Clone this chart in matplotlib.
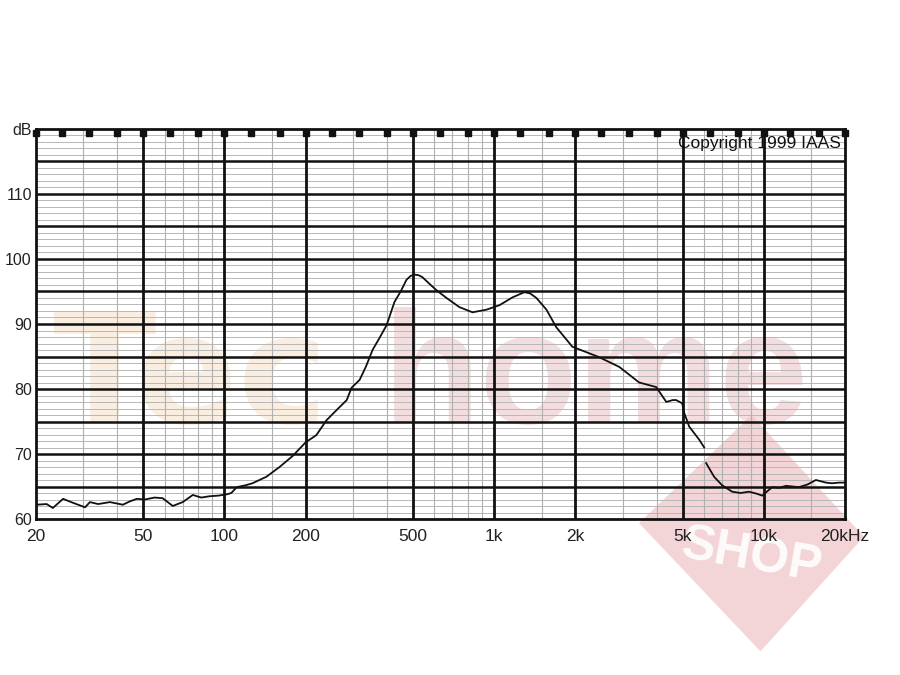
import numpy as np
import matplotlib
matplotlib.use("Agg")
import matplotlib.pyplot as plt
from matplotlib.patches import Polygon

plt.rcParams['font.family'] = ['Liberation Sans', 'DejaVu Sans']

# frequency response (Hz, dB)
freq = [20, 21.9, 23.1, 25.2, 27.4, 30.4, 31.7, 34, 37.6, 42, 44.5, 47.3, 50.7, 55, 59,
        64.3, 67, 70, 76.3, 82, 88, 95, 102, 106, 111, 114, 120, 127, 143, 160, 179,
        200, 219, 239, 261, 284, 296, 317, 335, 354, 375, 399, 427, 450, 473, 490,
        507, 525, 542, 575, 611, 666, 743, 831, 936, 1047, 1170, 1295, 1360, 1435,
        1563, 1700, 1950, 2250, 2450, 2910, 3450, 3990, 4350, 4590, 4730, 4980, 5070,
        5290, 5760, 6010, 6060, 6110, 6540, 7000, 7630, 8200, 8810, 9400, 9860, 10740,
        11400, 12090, 13500, 14500, 15600, 17000, 17900, 19000, 20000]
spl = [62.2, 62.3, 61.7, 63.1, 62.5, 61.8, 62.6, 62.3, 62.6, 62.2, 62.7, 63.1, 63.0, 63.3, 63.2,
       62.0, 62.3, 62.6, 63.7, 63.3, 63.5, 63.6, 63.8, 64.0, 64.9, 65.0, 65.2, 65.5, 66.5, 68.0, 69.7,
       71.8, 72.9, 75.2, 76.8, 78.3, 80.2, 81.4, 83.5, 86.0, 87.8, 89.8, 93.4, 95.0, 96.8, 97.4,
       97.6, 97.5, 97.2, 96.2, 95.2, 94.0, 92.6, 91.8, 92.2, 92.9, 94.1, 94.9, 94.7, 94.0,
       92.2, 89.5, 86.5, 85.5, 84.9, 83.4, 81.0, 80.3, 78.0, 78.3, 78.3, 77.8, 76.3,
       74.2, 72.2, 71.0, np.nan, 68.6, 66.5, 65.2, 64.2, 64.0, 64.2, 63.9, 63.6, 64.9,
       64.8, 65.1, 64.9, 65.3, 66.0, 65.6, 65.5, 65.6, 65.6]

major_freqs = [50, 100, 200, 500, 1000, 2000, 5000, 10000]
minor_freqs = [30, 40, 60, 70, 80, 90, 150, 300, 400, 600, 700, 800, 900, 1500,
               3000, 4000, 6000, 7000, 8000, 9000, 15000]
third_octave = [20, 25, 31.5, 40, 50, 63, 80, 100, 125, 160, 200, 250, 315, 400, 500,
                630, 800, 1000, 1250, 1600, 2000, 2500, 3150, 4000, 5000, 6300, 8000,
                10000, 12500, 16000, 20000]
xtick_vals = [20, 50, 100, 200, 500, 1000, 2000, 5000, 10000, 20000]
xtick_labels = ['20', '50', '100', '200', '500', '1k', '2k', '5k', '10k', '20kHz']
ytick_vals = [60, 70, 80, 90, 100, 110, 120]
ytick_labels = ['60', '70', '80', '90', '100', '110', 'dB']

fig = plt.figure(figsize=(9, 6.75), dpi=100)
ax = fig.add_axes([0.04, 0.2311, 0.8989, 0.5778])
ax.set_facecolor('none')
ax.set_xscale('log')
ax.set_xlim(20, 20000)
ax.set_ylim(60, 120)

# watermark behind the grid
fig.text(0.058, 0.373, 'Tec', fontsize=109, fontweight='bold', color='#faeee0',
         family='DejaVu Sans', zorder=-5, ha='left', va='baseline')
fig.text(0.425, 0.373, 'home', fontsize=115, fontweight='bold', color='#f3dddf',
         family='Liberation Sans', zorder=-5, ha='left', va='baseline')
diamond = Polygon([[0.835, 0.385], [0.96, 0.205], [0.845, 0.035], [0.71, 0.225]],
                  closed=True, transform=fig.transFigure, facecolor='#eec4c6',
                  edgecolor='none', alpha=0.7, zorder=-4)
fig.patches.append(diamond)
fig.text(0.835, 0.175, 'SHOP', fontsize=36, fontweight='bold', color='white',
         rotation=-10, ha='center', va='center', zorder=-3, alpha=0.9)

# grid
for y in range(61, 120):
    if y % 5:
        ax.axhline(y, color='#b8b8b8', lw=0.7, zorder=1)
for y in range(65, 120, 5):
    ax.axhline(y, color='#111111', lw=1.8, zorder=2)
for f in minor_freqs:
    ax.axvline(f, color='#b0b0b0', lw=0.8, zorder=1)
for f in major_freqs:
    ax.axvline(f, color='#111111', lw=2.0, zorder=2)
for s in ax.spines.values():
    s.set_linewidth(2.0)
    s.set_color('#111111')

# third-octave markers along the top edge
ax.plot(third_octave, [119.4] * len(third_octave), ls='none', marker='s', ms=4.5,
        color='#111111', clip_on=False, zorder=4)

ax.plot(freq, spl, color='#111111', lw=1.3, zorder=5)

ax.text(0.995, 0.962, 'Copyright 1999 IAAS', transform=ax.transAxes, ha='right',
        va='center', fontsize=12.5, color='#111111', zorder=6)

ax.set_xticks(xtick_vals)
ax.set_xticklabels(xtick_labels)
ax.xaxis.set_minor_locator(matplotlib.ticker.NullLocator())
ax.set_yticks(ytick_vals)
ax.set_yticklabels(ytick_labels)
ax.tick_params(length=0, labelsize=11.5, colors='#222222')
ax.tick_params(axis='x', pad=7, labelsize=12.5)
ax.tick_params(axis='y', pad=3)

fig.savefig('out.png', dpi=100)
